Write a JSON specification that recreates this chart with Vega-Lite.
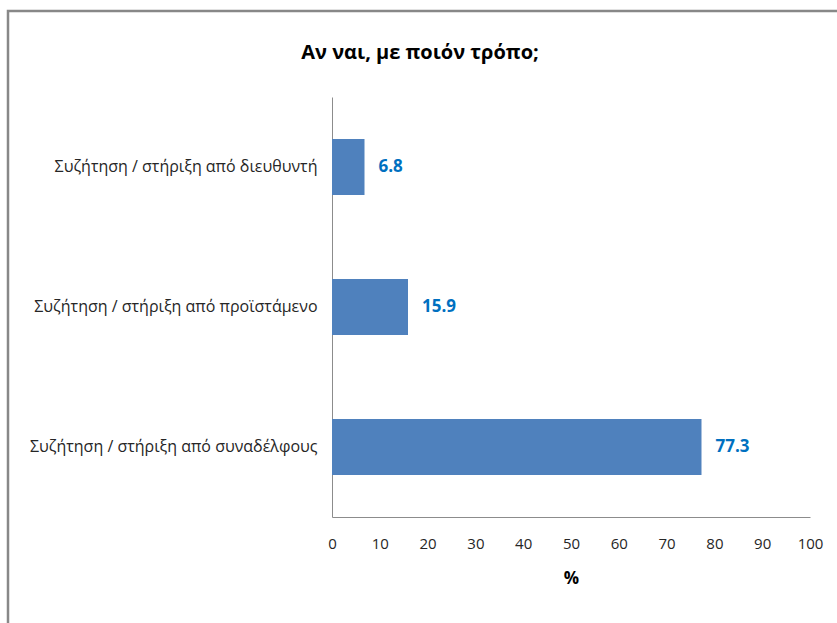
{
  "$schema": "https://vega.github.io/schema/vega-lite/v6.json",
  "width": 832,
  "height": 629,
  "autosize": {"type": "none"},
  "padding": {"left": 8, "top": 11, "right": 0, "bottom": 0},
  "background": "white",
  "title": {
    "text": "Αν ναι, με ποιόν τρόπο;",
    "font": "Open Sans",
    "fontSize": 20,
    "fontWeight": "bold",
    "color": "#000000",
    "anchor": "middle",
    "frame": "group",
    "baseline": "alphabetic",
    "offset": -47,
    "dx": -4,
    "dy": 21
  },
  "config": {
    "view": {"stroke": "#888888", "strokeWidth": 2.5},
    "axis": {"labelFont": "Open Sans", "titleFont": "Open Sans"}
  },
  "data": {
    "values": [
      {"tropos": "Συζήτηση / στήριξη από διευθυντή", "pososto": 6.8},
      {"tropos": "Συζήτηση / στήριξη από προϊστάμενο", "pososto": 15.9},
      {"tropos": "Συζήτηση / στήριξη από συναδέλφους", "pososto": 77.3}
    ]
  },
  "encoding": {
    "y": {
      "field": "tropos",
      "type": "nominal",
      "sort": null,
      "scale": {"range": [86, 506], "paddingInner": 0.6, "paddingOuter": 0.3},
      "axis": {
        "title": null,
        "orient": "left",
        "offset": -324,
        "ticks": false,
        "grid": false,
        "domainColor": "#8c8c8c",
        "domainWidth": 1,
        "labelPadding": 15,
        "labelLimit": 400,
        "labelFontSize": 16,
        "labelColor": "#262626"
      }
    },
    "x": {
      "field": "pososto",
      "type": "quantitative",
      "scale": {"domain": [0, 100], "range": [324, 802], "nice": false, "zero": true},
      "axis": {
        "title": "%",
        "orient": "bottom",
        "offset": -123,
        "values": [0, 10, 20, 30, 40, 50, 60, 70, 80, 90, 100],
        "ticks": false,
        "grid": false,
        "labelFlush": false,
        "domainColor": "#8c8c8c",
        "domainWidth": 1,
        "labelPadding": 19,
        "labelFontSize": 15,
        "labelColor": "#262626",
        "titleFontSize": 17,
        "titleFontWeight": "bold",
        "titleColor": "#000000",
        "titlePadding": 19
      }
    }
  },
  "layer": [
    {"mark": {"type": "bar", "color": "#4F81BD"}},
    {
      "mark": {
        "type": "text",
        "align": "left",
        "baseline": "middle",
        "dx": 14,
        "font": "Open Sans",
        "fontSize": 17,
        "fontWeight": "bold",
        "color": "#0070C0"
      },
      "encoding": {"text": {"field": "pososto", "type": "quantitative", "format": ".1f"}}
    }
  ]
}
